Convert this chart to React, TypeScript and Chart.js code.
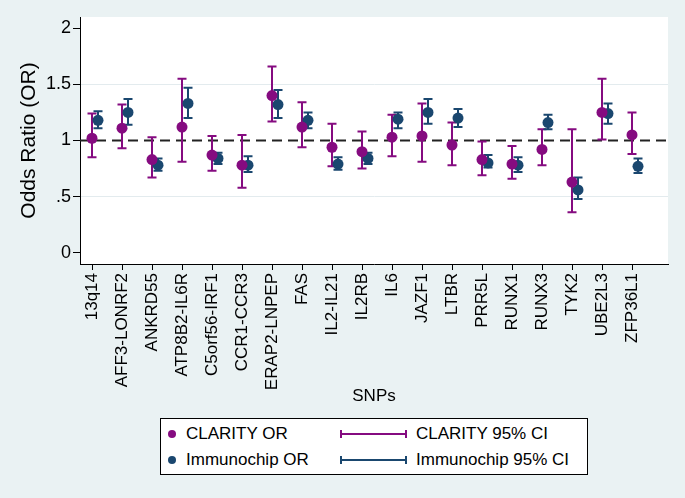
import React, { useEffect, useRef } from "react";
import { Chart, registerables } from "chart.js";

Chart.register(...registerables);

const snps = ["13q14", "AFF3-LONRF2", "ANKRD55", "ATP8B2-IL6R", "C5orf56-IRF1", "CCR1-CCR3", "ERAP2-LNPEP", "FAS", "IL2-IL21", "IL2RB", "IL6", "JAZF1", "LTBR", "PRR5L", "RUNX1", "RUNX3", "TYK2", "UBE2L3", "ZFP36L1"];

const clarityOR = [1.02, 1.11, 0.83, 1.12, 0.87, 0.78, 1.40, 1.12, 0.94, 0.90, 1.03, 1.04, 0.96, 0.83, 0.79, 0.92, 0.63, 1.25, 1.05];
const clarityLo = [0.85, 0.93, 0.67, 0.81, 0.73, 0.58, 1.17, 0.94, 0.77, 0.75, 0.86, 0.81, 0.78, 0.69, 0.66, 0.78, 0.36, 1.01, 0.88];
const clarityHi = [1.24, 1.32, 1.03, 1.55, 1.04, 1.05, 1.66, 1.34, 1.15, 1.08, 1.23, 1.33, 1.16, 0.99, 0.95, 1.10, 1.10, 1.55, 1.25];

const immunoOR = [1.18, 1.25, 0.78, 1.33, 0.84, 0.78, 1.32, 1.18, 0.79, 0.84, 1.19, 1.25, 1.20, 0.80, 0.78, 1.16, 0.56, 1.24, 0.77];
const immunoLo = [1.11, 1.14, 0.73, 1.20, 0.79, 0.72, 1.20, 1.11, 0.74, 0.79, 1.11, 1.15, 1.12, 0.76, 0.72, 1.10, 0.48, 1.15, 0.71];
const immunoHi = [1.26, 1.37, 0.84, 1.47, 0.89, 0.86, 1.45, 1.25, 0.85, 0.89, 1.25, 1.37, 1.28, 0.87, 0.85, 1.23, 0.67, 1.33, 0.84];

const yTicks = [0, 0.5, 1, 1.5, 2];
const yTickLabels = ["0", ".5", "1", "1.5", "2"];
const refValue = 1;
const immunoOffset = 0.2;

const PURPLE = "#850b80";
const NAVY = "#1a476f";
const BG = "#eaf2f3";
const FONT = "'Liberation Sans', Arial, Helvetica, sans-serif";

const errorBarPlugin = {
  id: "errorBars",
  beforeDraw(chart: any) {
    const { ctx, chartArea } = chart;
    ctx.save();
    ctx.fillStyle = "#ffffff";
    ctx.fillRect(chartArea.left, chartArea.top, chartArea.right - chartArea.left, chartArea.bottom - chartArea.top);
    ctx.restore();
  },
  beforeDatasetsDraw(chart: any) {
    const { ctx, chartArea, scales } = chart;
    const x = scales.x;
    const y = scales.y;
    ctx.save();
    const yr = y.getPixelForValue(refValue);
    ctx.strokeStyle = "#222222";
    ctx.lineWidth = 2;
    ctx.setLineDash([10, 6]);
    ctx.beginPath();
    ctx.moveTo(chartArea.left, yr);
    ctx.lineTo(chartArea.right, yr);
    ctx.stroke();
    ctx.setLineDash([]);

    const draw = (lo: number[], hi: number[], off: number, color: string) => {
      ctx.strokeStyle = color;
      ctx.lineWidth = 2;
      for (let i = 0; i < lo.length; i++) {
        const px = x.getPixelForValue(i + 1 + off);
        const pl = y.getPixelForValue(lo[i]);
        const ph = y.getPixelForValue(hi[i]);
        ctx.beginPath();
        ctx.moveTo(px, pl);
        ctx.lineTo(px, ph);
        ctx.moveTo(px - 4.5, pl);
        ctx.lineTo(px + 4.5, pl);
        ctx.moveTo(px - 4.5, ph);
        ctx.lineTo(px + 4.5, ph);
        ctx.stroke();
      }
    };
    draw(clarityLo, clarityHi, 0, PURPLE);
    draw(immunoLo, immunoHi, immunoOffset, NAVY);
    ctx.restore();
  },
};

export default function App() {
  const ref = useRef<HTMLCanvasElement | null>(null);

  useEffect(() => {
    document.body.style.margin = "0";
    const canvas = ref.current;
    if (!canvas) return;
    const chart = new Chart(canvas, {
      type: "scatter",
      data: {
        datasets: [
          {
            label: "CLARITY OR",
            data: clarityOR.map((v, i) => ({ x: i + 1, y: v })),
            backgroundColor: PURPLE,
            borderWidth: 0,
            pointRadius: 5.5,
          },
          {
            label: "Immunochip OR",
            data: immunoOR.map((v, i) => ({ x: i + 1 + immunoOffset, y: v })),
            backgroundColor: NAVY,
            borderWidth: 0,
            pointRadius: 5.5,
          },
        ],
      },
      options: {
        responsive: false,
        animation: false,
        layout: { padding: { top: 17, right: 17, left: 0, bottom: 0 } },
        plugins: { legend: { display: false }, tooltip: { enabled: false } },
        scales: {
          x: {
            type: "linear",
            min: 0.6,
            max: 20.2,
            afterBuildTicks: (s: any) => {
              s.ticks = snps.map((_, i) => ({ value: i + 1 }));
            },
            afterFit: (s: any) => {
              s.height = 234;
            },
            ticks: {
              autoSkip: false,
              minRotation: 90,
              maxRotation: 90,
              padding: 3,
              color: "#000",
              font: { family: FONT, size: 17 },
              callback: (_v: any, i: number) => snps[i],
            },
            grid: { drawOnChartArea: false, tickLength: 6, tickColor: "#000", tickWidth: 1 },
            border: { color: "#000", width: 1 },
            title: {
              display: true,
              text: "SNPs",
              color: "#000",
              font: { family: FONT, size: 17 },
              padding: { top: 0, bottom: 91 },
            },
          },
          y: {
            type: "linear",
            min: -0.1,
            max: 2.1,
            afterBuildTicks: (s: any) => {
              s.ticks = yTicks.map((v) => ({ value: v }));
            },
            afterFit: (s: any) => {
              s.width = 80;
            },
            ticks: {
              padding: 2,
              color: "#000",
              font: { family: FONT, size: 18 },
              callback: (_v: any, i: number) => yTickLabels[i],
            },
            grid: {
              drawOnChartArea: true,
              tickLength: 7,
              tickColor: "#000",
              tickWidth: 1,
              color: (c: any) =>
                c.tick && (c.tick.value === 0.5 || c.tick.value === 1.5) ? "#e3ebee" : "rgba(0,0,0,0)",
            },
            border: { color: "#000", width: 1 },
            title: {
              display: true,
              text: "Odds Ratio (OR)",
              color: "#000",
              font: { family: FONT, size: 21 },
              padding: { top: 17, bottom: 0 },
            },
          },
        },
      } as any,
      plugins: [errorBarPlugin],
    });
    return () => chart.destroy();
  }, []);

  const text = (left: number, cy: number, s: string) => (
    <div
      style={{
        position: "absolute",
        left,
        top: cy - 11,
        height: 22,
        lineHeight: "22px",
        fontSize: 17,
        fontFamily: FONT,
        color: "#000",
        whiteSpace: "nowrap",
      }}
    >
      {s}
    </div>
  );
  const dot = (cx: number, cy: number, color: string) => (
    <div
      style={{
        position: "absolute",
        left: cx - 4,
        top: cy - 4,
        width: 8,
        height: 8,
        borderRadius: "50%",
        background: color,
      }}
    />
  );
  const ci = (x0: number, x1: number, cy: number, color: string) => (
    <>
      <div style={{ position: "absolute", left: x0, top: cy - 1, width: x1 - x0, height: 2, background: color }} />
      <div style={{ position: "absolute", left: x0 - 1, top: cy - 4, width: 2, height: 8, background: color }} />
      <div style={{ position: "absolute", left: x1 - 1, top: cy - 4, width: 2, height: 8, background: color }} />
    </>
  );

  return (
    <div style={{ position: "fixed", left: 0, top: 0, width: 685, height: 498, background: BG, overflow: "hidden" }}>
      <canvas ref={ref} width={685} height={498} style={{ display: "block", width: 685, height: 498 }} />
      <div
        style={{
          position: "absolute",
          left: 160,
          top: 418,
          width: 428,
          height: 57,
          boxSizing: "border-box",
          border: "1px solid #000",
          background: "#fff",
        }}
      />
      {dot(172, 434, PURPLE)}
      {text(186, 434, "CLARITY OR")}
      {ci(341, 406, 434, PURPLE)}
      {text(416, 434, "CLARITY 95% CI")}
      {dot(172, 460, NAVY)}
      {text(186, 460, "Immunochip OR")}
      {ci(341, 406, 460, NAVY)}
      {text(416, 460, "Immunochip 95% CI")}
    </div>
  );
}
